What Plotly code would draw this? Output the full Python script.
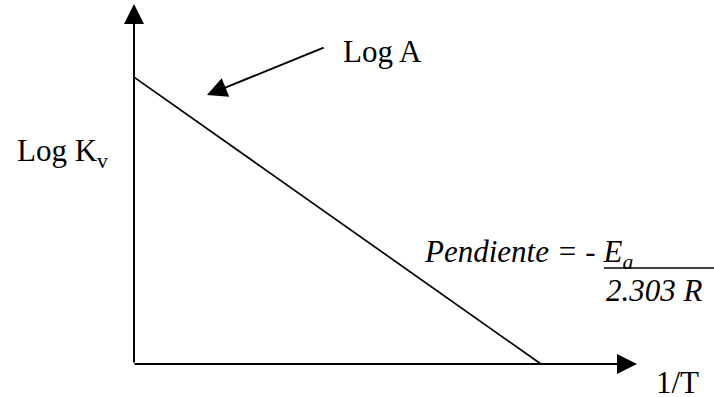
import plotly.graph_objects as go

# Schematic Arrhenius plot: Log Kv vs 1/T (arbitrary units, axes run 0..1)
inv_T = [0.0, 0.809]          # 1/T at the two ends of the line
log_Kv = [0.799, 0.0]         # Log Kv at those points (intercept = Log A)
axis_len_x = 1.0
axis_len_y = 1.003
logA_arrow_tail = (0.380, 0.883)
logA_arrow_tip = (0.145, 0.749)

W, H = 714, 397
X0, Y0, SX, SY = 134, 364, 503, 359  # origin pixel and pixel per unit


def X(p):
    return (p - X0) / SX


def Y(p):
    return (Y0 - p) / SY


FONT = "Liberation Serif"
FS = 31

fig = go.Figure()
fig.add_trace(go.Scatter(x=inv_T, y=log_Kv, mode="lines",
                         line=dict(color="black", width=1.7),
                         hoverinfo="skip", showlegend=False))

ann = []
# y axis with arrow
ann.append(dict(x=0, y=axis_len_y, ax=0, ay=0, xref="x", yref="y", axref="x", ayref="y",
                text="", showarrow=True, arrowhead=2, arrowsize=2, arrowwidth=2, arrowcolor="black"))
# x axis with arrow
ann.append(dict(x=axis_len_x, y=0, ax=X(133), ay=0, xref="x", yref="y", axref="x", ayref="y",
                text="", showarrow=True, arrowhead=2, arrowsize=2, arrowwidth=2, arrowcolor="black"))
# Log A pointer
ann.append(dict(x=logA_arrow_tip[0], y=logA_arrow_tip[1], ax=logA_arrow_tail[0], ay=logA_arrow_tail[1],
                xref="x", yref="y", axref="x", ayref="y",
                text="", showarrow=True, arrowhead=2, arrowsize=2, arrowwidth=2, arrowcolor="black"))


def label(text, left, baseline):
    ann.append(dict(x=X(left), y=Y(baseline - 0.33 * FS), xref="x", yref="y", text=text,
                    showarrow=False, xanchor="left", yanchor="middle",
                    font=dict(family=FONT, size=FS, color="black")))


label("Log K<sub>v</sub>", 15, 163)
label("Log A", 341, 62)
label("<i>Pendiente = - E<sub>a</sub></i>", 422, 264)
label("<i>2.303 R</i>", 604, 301)
label("1/T", 654, 393)

fig.update_layout(
    width=W, height=H, margin=dict(l=0, r=0, t=0, b=0),
    paper_bgcolor="white", plot_bgcolor="white",
    annotations=ann,
    shapes=[dict(type="line", xref="x", yref="y", x0=X(604), x1=X(714), y0=Y(268), y1=Y(268),
                 line=dict(color="black", width=1.5))],
    xaxis=dict(range=[X(0), X(W)], visible=False, fixedrange=True),
    yaxis=dict(range=[Y(H), Y(0)], visible=False, fixedrange=True),
)
fig.write_html("out.html", config={"displayModeBar": False},
               post_script="document.body.style.margin='0';document.body.style.overflow='hidden';")
